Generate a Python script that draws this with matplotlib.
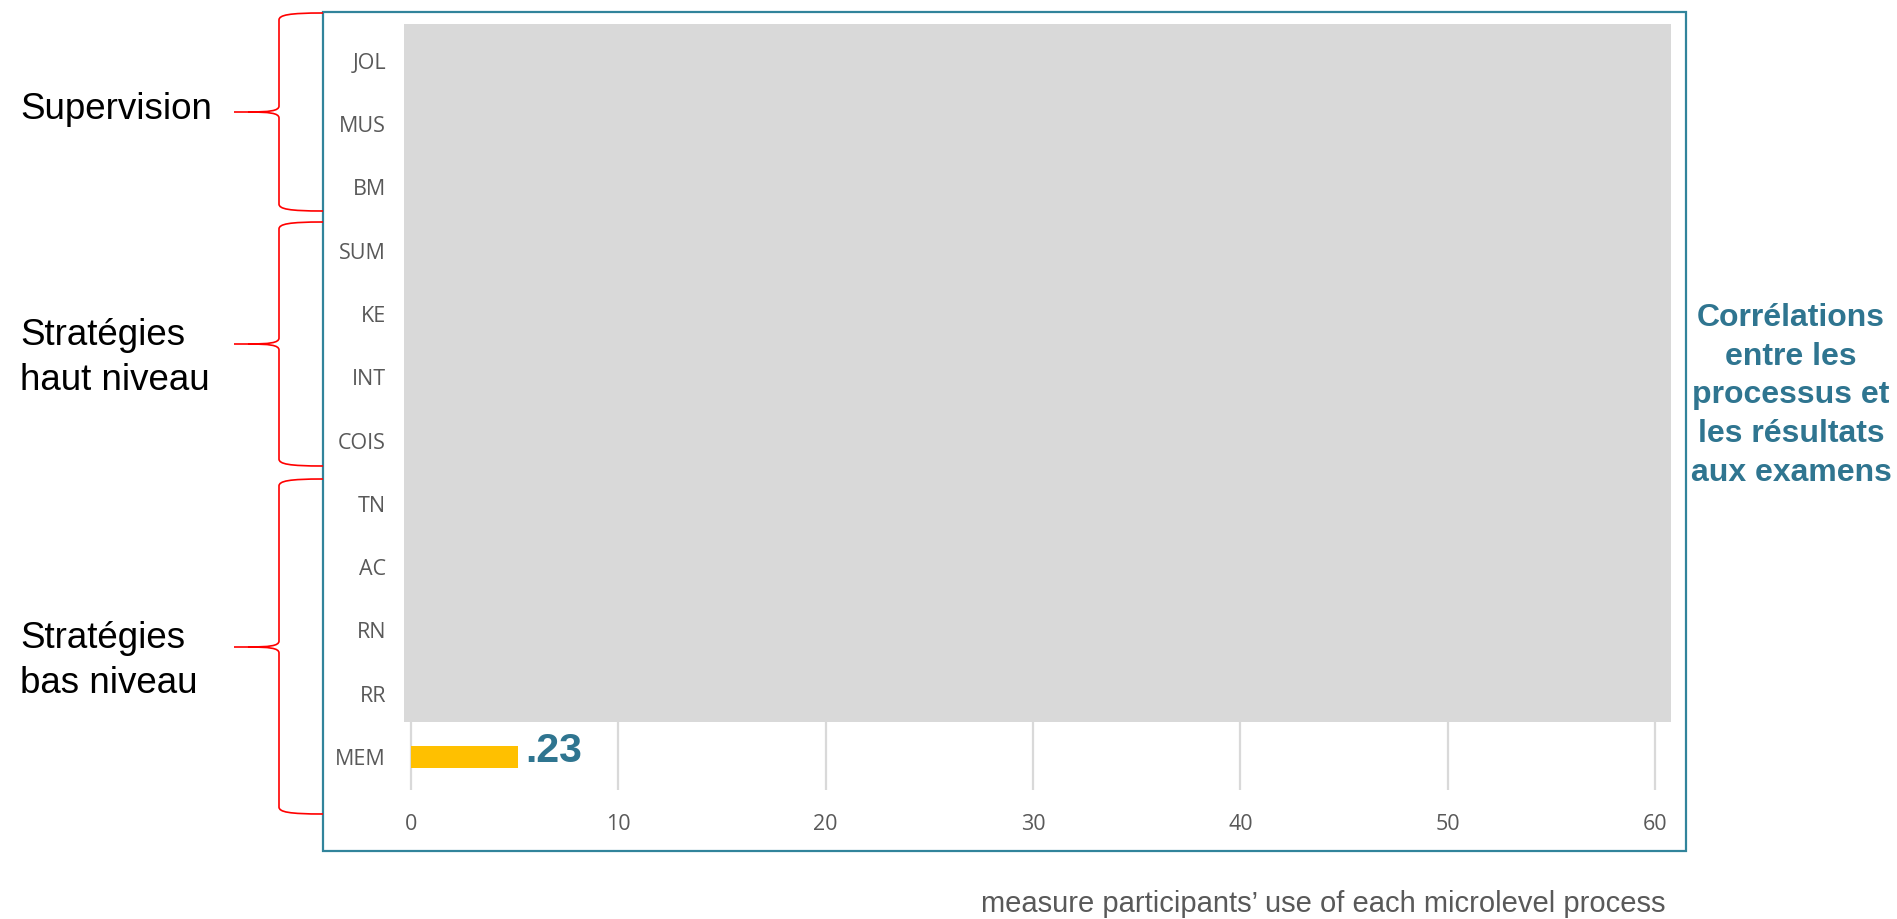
import matplotlib
matplotlib.use('Agg')
import matplotlib.pyplot as plt
from matplotlib.path import Path
from matplotlib.patches import PathPatch, Rectangle
from matplotlib.transforms import Affine2D
import numpy as np

# categories from bottom to top
categories = ['MEM', 'RR', 'RN', 'AC', 'TN', 'COIS', 'INT', 'KE', 'SUM', 'BM', 'MUS', 'JOL']
# only MEM is revealed, the others sit under the grey mask
values = [5.15, np.nan, np.nan, np.nan, np.nan, np.nan, np.nan, np.nan, np.nan, np.nan, np.nan, np.nan]
value_labels = ['.23', '', '', '', '', '', '', '', '', '', '', '']
x_ticks = [0, 10, 20, 30, 40, 50, 60]

groups = ['Supervision', 'Stratégies\nhaut niveau', 'Stratégies\nbas niveau']
side_note = 'Corrélations\nentre les\nprocessus et\nles résultats\naux examens'
footer = 'measure participants’ use of each microlevel process'

W, H = 1897, 919
TEAL = '#2F7590'
FRAME = '#31849B'
GREY_TXT = '#595959'

fig = plt.figure(figsize=(W / 100, H / 100), dpi=100)
fig.patch.set_facecolor('white')

# pixel coords (origin top-left) -> figure
px = Affine2D().scale(1 / W, -1 / H).translate(0, 1) + fig.transFigure

ax = fig.add_axes([404 / W, 1 - 790 / H, (1671 - 404) / W, (790 - 24) / H])
y = np.arange(len(categories))
ax.barh(y, values, height=0.36, color='#FFC000', zorder=2)
for yi, v, lab in zip(y, values, value_labels):
    if lab:
        ax.annotate(lab, (v, yi), xytext=(5.5, -3.5), textcoords='offset points',
                    ha='left', va='baseline', fontsize=29.5, fontweight='bold',
                    color=TEAL, family='Liberation Sans', zorder=4)

ax.set_xlim(-0.338, 60.77)
ax.set_ylim(-0.52, len(categories) - 0.42)
ax.set_xticks(x_ticks)
ax.set_yticks(y)
ax.set_yticklabels(categories)
ax.tick_params(axis='both', length=0, labelsize=15.5, labelcolor=GREY_TXT)
ax.tick_params(axis='y', pad=13)
ax.tick_params(axis='x', pad=17)
for t in ax.get_xticklabels() + ax.get_yticklabels():
    t.set_family('Open Sans')
ax.grid(axis='x', color='#D9D9D9', linewidth=1.6, zorder=1)
ax.set_axisbelow(True)
for s in ax.spines.values():
    s.set_visible(False)

# grey mask over the hidden bars
ax.axhspan(0.553, len(categories), color='#D9D9D9', zorder=3, linewidth=0)

# outer frame
fig.patches.append(Rectangle((323, 12), 1686 - 323, 851 - 12, transform=px,
                             fill=False, edgecolor=FRAME, linewidth=1.6))


def brace(y0, ym, y1, xe=323, xv=279, xt=234):
    verts = [(xe, y0), (xv + 10, y0), (xv, y0 + 2), (xv, y0 + 7),
             (xv, ym - 6),
             (xv, ym - 1), (xv - 10, ym), (xt + 14, ym),
             (xt, ym),
             (xt + 14, ym),
             (xv - 10, ym), (xv, ym + 1), (xv, ym + 6),
             (xv, y1 - 7),
             (xv, y1 - 2), (xv + 10, y1), (xe, y1)]
    codes = [Path.MOVETO, Path.CURVE4, Path.CURVE4, Path.CURVE4,
             Path.LINETO,
             Path.CURVE4, Path.CURVE4, Path.CURVE4,
             Path.LINETO,
             Path.MOVETO,
             Path.CURVE4, Path.CURVE4, Path.CURVE4,
             Path.LINETO,
             Path.CURVE4, Path.CURVE4, Path.CURVE4]
    fig.patches.append(PathPatch(Path(verts, codes), transform=px, fill=False,
                                 edgecolor='#FF0000', linewidth=1.2))


brace(13, 112, 211)
brace(222, 344, 466)
brace(479, 647, 814)

# group labels, one text per line
group_baselines = [[119], [345, 390], [648, 693]]
for g, bls in zip(groups, group_baselines):
    for line, b in zip(g.split('\n'), bls):
        fig.text(20 / W, 1 - b / H, line, ha='left', va='baseline',
                 fontsize=26.5, family='Liberation Sans', color='black')

for i, line in enumerate(side_note.split('\n')):
    fig.text(1791 / W, 1 - (326 + i * 38.7) / H, line, ha='center', va='baseline',
             fontsize=23, fontweight='bold', family='Liberation Sans', color=TEAL)

fig.text(981 / W, 1 - 912 / H, footer, ha='left', va='baseline',
         fontsize=21, family='Liberation Sans', color=GREY_TXT)

fig.savefig('out.png', dpi=100)
